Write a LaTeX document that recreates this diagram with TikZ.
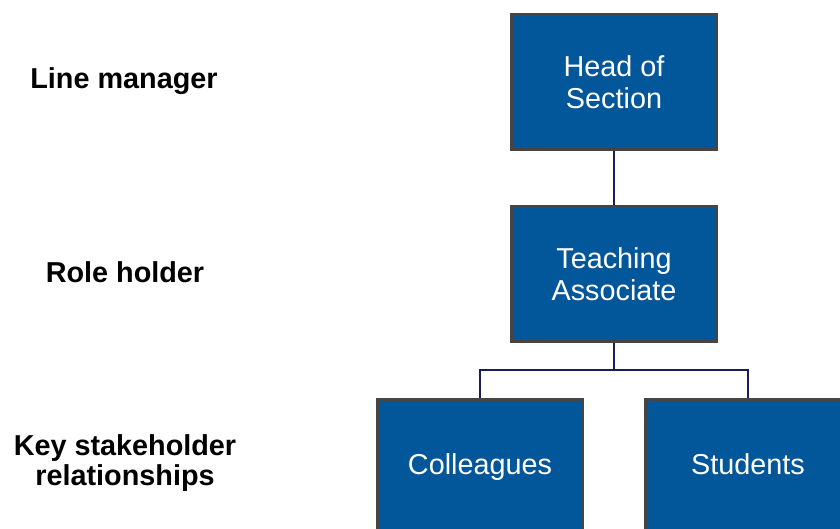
\documentclass[tikz,border=0pt]{standalone}
\usepackage{fontspec}
\setmainfont{Liberation Sans}
\definecolor{boxfill}{HTML}{02569A}
\definecolor{boxline}{HTML}{454545}
\definecolor{conn}{HTML}{1C1C58}
\begin{document}
\begin{tikzpicture}[x=1pt,y=-1pt,
  orgbox/.style={draw=boxline, line width=3pt, fill=boxfill, text=white,
    minimum width=205pt, minimum height=135pt, inner sep=0pt, align=center,
    font=\fontsize{28.8}{31.5}\selectfont},
  lvl/.style={align=center, font=\fontsize{28.8}{30}\selectfont\bfseries},
  link/.style={draw=conn, line width=2.8pt}]
\useasboundingbox (0,0) rectangle (840,529);
\node[orgbox] (head) at (614,82) {Head of\\Section};
\node[orgbox] (ta) at (614,274) {Teaching\\Associate};
\node[orgbox] (col) at (480,467) {\vphantom{Cg}Colleagues};
\node[orgbox] (stu) at (748,467) {\vphantom{Cg}Students};
\coordinate (split) at (614,370);
\node[lvl] (l1) at (124,81) {Line manager};
\node[lvl] (l2) at (125,272) {Role holder};
\node[lvl] (l3) at (125,463) {Key stakeholder\\relationships};
\draw[link] (head.south) -- (ta.north);
\draw[link] (ta.south) -- (split);
\draw[link] (split) -| (col.north);
\draw[link] (split) -| (stu.north);
\end{tikzpicture}
\end{document}
